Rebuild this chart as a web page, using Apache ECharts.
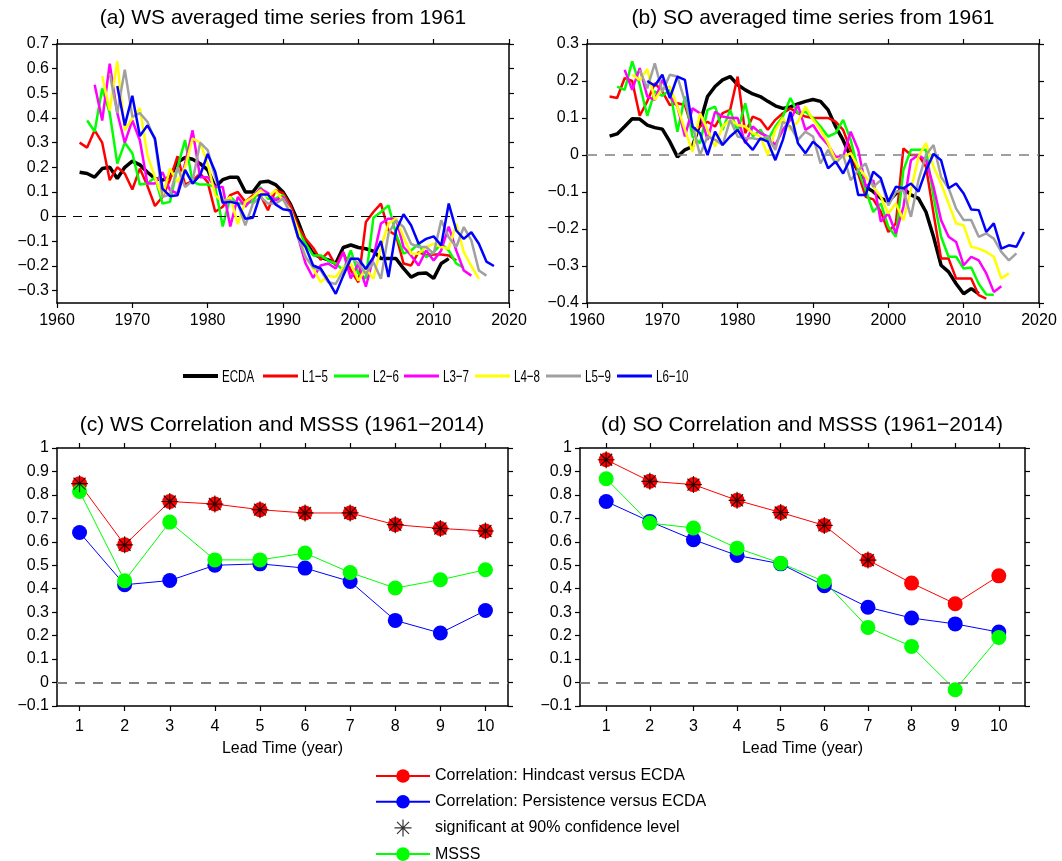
<!DOCTYPE html>
<html>
<head>
<meta charset="utf-8">
<script src="https://cdn.jsdelivr.net/npm/echarts@6/dist/echarts.min.js"></script>
<style>
  html, body { margin: 0; padding: 0; background: #fff; }
  #chart { width: 1062px; height: 861px; }
</style>
</head>
<body>
<div id="chart"></div>
<script>
// ---- data ----
const tsNames = ['ECDA', 'L1\u22125', 'L2\u22126', 'L3\u22127', 'L4\u22128', 'L5\u22129', 'L6\u221210'];
const tsStart = [1963, 1963, 1964, 1965, 1966, 1967, 1968];
const yearTicks = [1960, 1970, 1980, 1990, 2000, 2010, 2020];

// (a) WS averaged time series
const wsEcda = [0.18,0.175,0.16,0.195,0.2,0.155,0.2,0.225,0.21,0.18,0.155,0.148,0.16,0.22,0.24,0.233,0.215,0.19,0.12,0.15,0.16,0.16,0.1,0.1,0.14,0.144,0.13,0.1,0.05,-0.02,-0.1,-0.15,-0.165,-0.175,-0.19,-0.125,-0.115,-0.125,-0.13,-0.14,-0.17,-0.17,-0.17,-0.21,-0.245,-0.23,-0.228,-0.25,-0.19,-0.17];
const wsL15 = [0.3,0.28,0.35,0.3,0.148,0.2,0.175,0.11,0.195,0.125,0.043,0.08,0.15,0.245,0.13,0.145,0.175,0.14,0.02,0.04,0.087,0.1,0.06,0.087,0.087,0.026,0.107,0.095,0.046,-0.04,-0.09,-0.126,-0.175,-0.144,-0.198,-0.144,-0.218,-0.266,-0.022,0.019,0.053,-0.056,-0.076,-0.19,-0.198,-0.144,-0.157,-0.153,-0.153,-0.157,-0.178];
const wsL26 = [0.39,0.345,0.52,0.42,0.215,0.3,0.257,0.13,0.134,0.16,0.053,0.06,0.2,0.31,0.14,0.13,0.13,0.12,-0.04,0.08,0.053,0.053,0.06,0.12,0.073,0.073,0.087,0.026,-0.056,-0.11,-0.157,-0.157,-0.178,-0.19,-0.218,-0.137,-0.23,-0.25,-0.004,0.019,0.046,-0.07,-0.15,-0.137,-0.11,-0.164,-0.144,-0.11,-0.137,-0.19,-0.208];
const wsL37 = [0.535,0.39,0.62,0.42,0.3,0.39,0.31,0.134,0.134,0.18,0.107,0.094,0.215,0.35,0.16,0.16,0.12,0.12,-0.04,0.08,0.04,0.08,0.114,0.096,0.066,0.08,0.026,-0.083,-0.19,-0.248,-0.198,-0.19,-0.21,-0.144,-0.25,-0.19,-0.284,-0.164,-0.028,-0.008,-0.008,-0.123,-0.157,-0.198,-0.137,-0.178,-0.137,-0.04,-0.137,-0.218,-0.239];
const wsL48 = [0.57,0.43,0.63,0.35,0.4,0.44,0.25,0.16,0.08,0.195,0.14,0.2,0.317,0.3,0.215,0.087,0.06,0.08,-0.03,0.06,0.08,0.107,0.08,0.107,0.066,0.026,-0.056,-0.164,-0.21,-0.266,-0.24,-0.245,-0.205,-0.19,-0.259,-0.21,-0.252,-0.123,-0.028,-0.008,-0.083,-0.15,-0.15,-0.123,-0.11,-0.123,-0.13,-0.028,-0.144,-0.2,-0.252];
const wsL59 = [0.58,0.42,0.596,0.405,0.42,0.385,0.31,0.08,0.09,0.2,0.12,0.145,0.3,0.27,0.16,0.066,0.066,0.053,-0.035,0.053,0.08,0.053,0.053,0.073,0.012,-0.083,-0.164,-0.205,-0.218,-0.266,-0.273,-0.218,-0.164,-0.19,-0.232,-0.185,-0.252,-0.069,-0.015,-0.042,-0.11,-0.123,-0.123,-0.15,-0.015,-0.083,-0.123,-0.042,-0.096,-0.218,-0.239];
const wsL610 = [0.53,0.37,0.49,0.327,0.37,0.317,0.114,0.083,0.087,0.19,0.134,0.168,0.254,0.182,0.056,0.06,0.053,-0.008,-0.004,0.09,0.09,0.05,0.03,0.025,-0.083,-0.123,-0.198,-0.21,-0.259,-0.313,-0.239,-0.171,-0.171,-0.212,-0.164,-0.099,-0.245,-0.056,0.01,-0.035,-0.11,-0.09,-0.08,-0.117,0.053,-0.056,-0.09,-0.063,-0.11,-0.182,-0.2];

// (b) SO averaged time series
const soEcda = [0.051,0.057,0.077,0.098,0.097,0.081,0.074,0.07,0.036,-0.005,0.014,0.023,0.086,0.158,0.185,0.203,0.212,0.19,0.176,0.165,0.158,0.145,0.133,0.126,0.13,0.138,0.145,0.15,0.145,0.122,0.077,0.04,-0.005,-0.045,-0.086,-0.099,-0.117,-0.126,-0.104,-0.09,-0.108,-0.117,-0.154,-0.221,-0.298,-0.316,-0.348,-0.375,-0.361,-0.375];
const soL15 = [0.158,0.154,0.208,0.2,0.106,0.145,0.194,0.172,0.135,0.14,0.135,0.068,0.077,0.09,0.077,0.113,0.122,0.212,0.059,0.104,0.095,0.068,0.095,0.113,0.126,0.113,0.104,0.1,0.1,0.1,0.09,0.068,0.014,-0.05,-0.113,-0.12,-0.153,-0.208,-0.185,0.018,0,0,-0.032,-0.158,-0.28,-0.28,-0.334,-0.334,-0.334,-0.379,-0.388];
const soL26 = [0.185,0.176,0.253,0.19,0.106,0.172,0.16,0.176,0.063,0.158,0.05,0.032,0.122,0.131,0.068,0.122,0.063,0.14,0.05,0.068,0.04,0.077,0.104,0.154,0.113,0.117,0.1,0.077,0.05,0.059,0.095,0.041,-0.041,-0.095,-0.154,-0.131,-0.194,-0.221,-0.041,0.014,0.014,0.014,-0.113,-0.221,-0.275,-0.275,-0.307,-0.304,-0.348,-0.377,-0.378];
const soL37 = [0.23,0.176,0.235,0.158,0.149,0.203,0.158,0.131,0.05,0.126,0.113,0.041,0.117,0.104,0.1,0.1,0.032,0.077,0.059,0.05,0.027,0.068,0.095,0.135,0.068,0.081,0.05,0.027,-0.005,-0.005,0.063,0.014,-0.086,-0.068,-0.18,-0.158,-0.212,-0.14,-0.014,0,-0.014,-0.086,-0.176,-0.221,-0.235,-0.298,-0.275,-0.285,-0.32,-0.37,-0.355];
const soL48 = [0.217,0.203,0.232,0.149,0.18,0.185,0.131,0.068,0.009,0.113,0.068,0.023,0.077,0.095,0.081,0.077,0.059,0.05,0,0.068,0.1,0.068,0.09,0.131,0.095,0.068,0.032,-0.014,-0.005,0.005,-0.032,-0.059,-0.086,-0.113,-0.158,-0.131,-0.176,-0.095,-0.005,0.032,-0.032,-0.077,-0.131,-0.185,-0.19,-0.248,-0.253,-0.262,-0.275,-0.334,-0.32];
const soL59 = [0.23,0.18,0.248,0.17,0.217,0.212,0.145,0.081,0,0.05,0.041,0.027,0.095,0.05,0.045,0.045,0.041,0.05,0.014,0.09,0.077,0.041,0.063,0.05,-0.023,0.014,-0.023,0,-0.068,-0.041,-0.023,-0.086,-0.068,-0.136,-0.1,-0.095,-0.167,-0.068,0,0.027,-0.059,-0.09,-0.145,-0.176,-0.176,-0.221,-0.212,-0.226,-0.262,-0.285,-0.266];
const soL610 = [0.2,0.187,0.217,0.154,0.212,0.203,0.077,0.059,0,0.063,0.027,0.05,0.068,0.036,0.014,0.045,0.036,-0.014,0.041,0.117,0.032,0.005,0.036,0.018,-0.036,-0.018,-0.05,-0.009,-0.108,-0.108,-0.045,-0.063,-0.126,-0.086,-0.09,-0.077,-0.099,-0.041,0.003,-0.014,-0.09,-0.077,-0.104,-0.147,-0.149,-0.208,-0.185,-0.253,-0.244,-0.248,-0.208];

// (c)/(d) skill by lead time
const leads = [1, 2, 3, 4, 5, 6, 7, 8, 9, 10];
const wsHindcast = [0.848, 0.587, 0.772, 0.761, 0.737, 0.723, 0.723, 0.673, 0.657, 0.646];
const wsPersist  = [0.64, 0.417, 0.435, 0.5, 0.506, 0.488, 0.431, 0.265, 0.211, 0.307];
const wsMsss     = [0.815, 0.434, 0.684, 0.523, 0.523, 0.552, 0.469, 0.403, 0.438, 0.481];
const wsSignif   = [1, 2, 3, 4, 5, 6, 7, 8, 9, 10];
const soHindcast = [0.95, 0.858, 0.844, 0.777, 0.725, 0.67, 0.522, 0.424, 0.336, 0.455];
const soPersist  = [0.772, 0.687, 0.609, 0.542, 0.506, 0.413, 0.321, 0.275, 0.25, 0.215];
const soMsss     = [0.869, 0.68, 0.659, 0.573, 0.509, 0.431, 0.235, 0.154, -0.031, 0.192];
const soSignif   = [1, 2, 3, 4, 5, 6, 7];

const skillNames = ['Correlation: Hindcast versus ECDA', 'Correlation: Persistence versus ECDA',
                    'significant at 90% confidence level', 'MSSS'];

// ---- styling ----
const FONT = "'Liberation Sans', Arial, sans-serif";
const tsColors = ['#000000', '#ff0000', '#00ff00', '#ff00ff', '#ffff00', '#a0a0a0', '#0000ff'];
const tsWidths = [3.5, 2.5, 2.5, 2.5, 2.5, 2.5, 2.5];
// left edge of each key in the row legend under (a)/(b)
const keyLeft = [183, 263, 334, 404, 475, 546, 617];
const ASTERISK = 'path://M-0.7,-10L0.7,-10L0.7,10L-0.7,10Z M-10,-0.7L10,-0.7L10,0.7L-10,0.7Z ' +
  'M7.57,6.58L6.58,7.57L-7.57,-6.58L-6.58,-7.57Z M6.58,-7.57L7.57,-6.58L-6.58,7.57L-7.57,6.58Z';

function fmt(v) {
  if (Math.abs(v) < 1e-9) return '0';
  return String(Math.round(v * 10) / 10).replace('-', '\u2212');
}
function range(a, b, step) {
  const out = [];
  for (let i = 0; a + i * step <= b + 1e-9; i++) out.push(Math.round((a + i * step) * 100) / 100);
  return out;
}
const axisLineStyle = { show: true, onZero: false, lineStyle: { color: '#000', width: 1.5 } };
const tickStyle = { show: true, length: 5, lineStyle: { color: '#000', width: 1.2 } };
const labelStyle = { color: '#000', fontSize: 16, fontFamily: FONT };

function xPair(grid, min, max, ticks, labelMargin) {
  return [
    { type: 'value', gridIndex: grid, position: 'bottom', min, max,
      axisLine: axisLineStyle, splitLine: { show: false },
      axisTick: Object.assign({ customValues: ticks }, tickStyle),
      axisLabel: Object.assign({ customValues: ticks, margin: labelMargin, formatter: v => String(v) }, labelStyle) },
    { type: 'value', gridIndex: grid, position: 'top', min, max,
      axisLine: axisLineStyle, splitLine: { show: false },
      axisTick: Object.assign({ customValues: ticks }, tickStyle),
      axisLabel: { show: false } }
  ];
}
function yPair(grid, min, max, ticks) {
  return [
    { type: 'value', gridIndex: grid, position: 'left', min, max,
      axisLine: axisLineStyle, splitLine: { show: false },
      axisTick: Object.assign({ customValues: ticks }, tickStyle),
      axisLabel: Object.assign({ customValues: ticks, margin: 8, formatter: fmt }, labelStyle) },
    { type: 'value', gridIndex: grid, position: 'right', min, max,
      axisLine: axisLineStyle, splitLine: { show: false },
      axisTick: Object.assign({ customValues: ticks }, tickStyle),
      axisLabel: { show: false } }
  ];
}
function zeroLine(color, width, dash) {
  return { silent: true, symbol: 'none', label: { show: false },
           lineStyle: { color, width, type: dash }, data: [{ yAxis: 0 }] };
}

// ---- series ----
const series = [];
const wsSets = [wsEcda, wsL15, wsL26, wsL37, wsL48, wsL59, wsL610];
const soSets = [soEcda, soL15, soL26, soL37, soL48, soL59, soL610];
[[wsSets, 0], [soSets, 2]].forEach(([sets, ax]) => {
  sets.forEach((vals, k) => {
    const s = {
      type: 'line', name: tsNames[k], xAxisIndex: ax, yAxisIndex: ax,
      data: vals.map((v, i) => [tsStart[k] + i, v]),
      symbol: 'none', showSymbol: false, color: tsColors[k],
      lineStyle: { color: tsColors[k], width: tsWidths[k] }, z: 2 + k
    };
    if (k === 0) s.markLine = ax === 0 ? zeroLine('#000', 1, [9, 7]) : zeroLine('#808080', 1.6, [10, 8]);
    series.push(s);
  });
});

[[wsHindcast, wsPersist, wsMsss, wsSignif, 4], [soHindcast, soPersist, soMsss, soSignif, 6]].forEach(
  ([hind, pers, msss, sig, ax]) => {
    const lineSeries = (name, vals, color) => ({
      type: 'line', name, xAxisIndex: ax, yAxisIndex: ax,
      data: vals.map((v, i) => [leads[i], v]),
      symbol: 'circle', symbolSize: 15, color,
      itemStyle: { color }, lineStyle: { color, width: 1 }, z: 3
    });
    const red = lineSeries(skillNames[0], hind, '#ff0000');
    red.markLine = zeroLine('#808080', 1.8, [10, 8]);
    series.push(red);
    series.push(lineSeries(skillNames[1], pers, '#0000ff'));
    series.push(lineSeries(skillNames[3], msss, '#00ff00'));
    series.push({
      type: 'scatter', name: skillNames[2], xAxisIndex: ax, yAxisIndex: ax,
      data: sig.map(l => [l, hind[l - 1]]),
      symbol: ASTERISK, symbolSize: 17, color: '#000', itemStyle: { color: '#000' }, z: 6
    });
  });

// row key for the time-series panels (narrow lettering, as in the figure)
const keyGraphics = [];
tsNames.forEach((name, k) => {
  const h = k === 0 ? 4 : 3;
  keyGraphics.push({ type: 'rect', left: keyLeft[k], top: 376 - h / 2,
                     shape: { width: 35, height: h }, style: { fill: tsColors[k] } });
  keyGraphics.push({ type: 'text', x: keyLeft[k] + 39, y: 377, scaleX: 0.68,
                     style: { text: name, fill: '#000', fontSize: 17, fontFamily: FONT,
                              align: 'left', verticalAlign: 'middle',
                              textAlign: 'left', textVerticalAlign: 'middle' } });
});

// ---- chart ----
const titleStyle = { color: '#000', fontSize: 21, fontWeight: 'normal', fontFamily: FONT };
const option = {
  animation: false,
  backgroundColor: '#fff',
  title: [
    { text: '(a) WS averaged time series from 1961', left: 283, top: 8, textAlign: 'center', padding: 0, textStyle: titleStyle },
    { text: '(b) SO averaged time series from 1961', left: 813, top: 8, textAlign: 'center', padding: 0, textStyle: titleStyle },
    { text: '(c) WS Correlation and MSSS (1961\u22122014)', left: 282, top: 415, textAlign: 'center', padding: 0, textStyle: titleStyle },
    { text: '(d) SO Correlation and MSSS (1961\u22122014)', left: 802, top: 415, textAlign: 'center', padding: 0, textStyle: titleStyle }
  ],
  grid: [
    { left: 57, top: 44, width: 452, height: 259 },
    { left: 587, top: 44, width: 452, height: 259 },
    { left: 57, top: 448, width: 451, height: 258 },
    { left: 580, top: 448, width: 445, height: 258 }
  ],
  xAxis: [
    ...xPair(0, 1960, 2020, yearTicks, 10),
    ...xPair(1, 1960, 2020, yearTicks, 10),
    ...xPair(2, 0.5, 10.5, leads, 13),
    ...xPair(3, 0.4, 10.6, leads, 13)
  ],
  yAxis: [
    ...yPair(0, -0.35, 0.7, range(-0.3, 0.7, 0.1)),
    ...yPair(1, -0.4, 0.3, range(-0.4, 0.3, 0.1)),
    ...yPair(2, -0.1, 1, range(-0.1, 1, 0.1)),
    ...yPair(3, -0.1, 1, range(-0.1, 1, 0.1))
  ],
  legend: [
    { data: skillNames, left: 375, top: 768, height: 110, padding: 0, orient: 'vertical',
      itemWidth: 54, itemHeight: 17, itemGap: 9.7,
      textStyle: { color: '#000', fontSize: 16, fontFamily: FONT } }
  ],
  graphic: keyGraphics,
  series
};
// axis names for the lead-time panels
[4, 6].forEach(i => Object.assign(option.xAxis[i], {
  name: 'Lead Time (year)', nameLocation: 'middle', nameGap: 35,
  nameTextStyle: { color: '#000', fontSize: 16, fontFamily: FONT }
}));

const chart = echarts.init(document.getElementById('chart'), null, { renderer: 'canvas' });
chart.setOption(option);
</script>
</body>
</html>
